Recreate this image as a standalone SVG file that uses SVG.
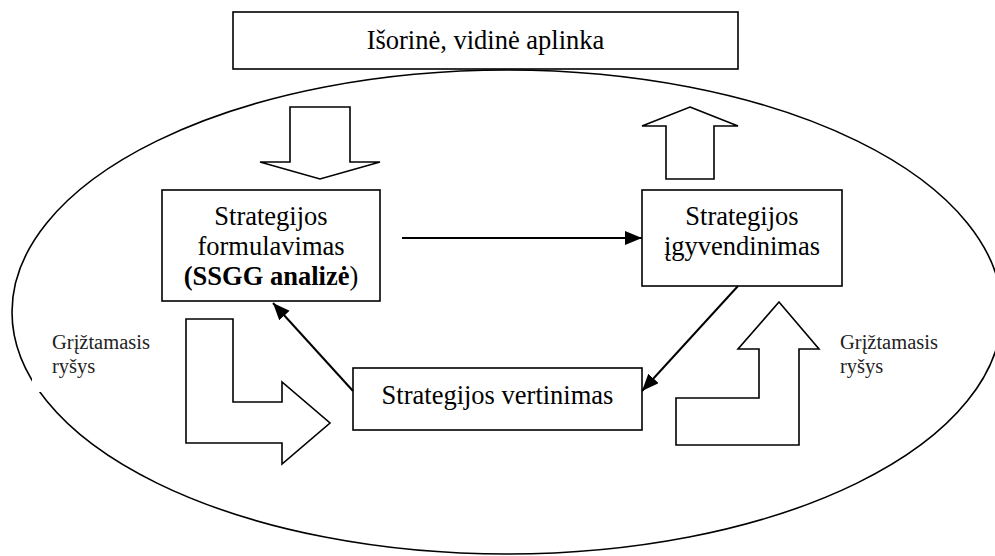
<svg xmlns="http://www.w3.org/2000/svg" width="995" height="556" viewBox="0 0 995 556">
  <style>
    .box { fill: #fff; stroke: #000; stroke-width: 1.6; }
    .blk { fill: #fff; stroke: #000; stroke-width: 1.6; stroke-linejoin: miter; }
    .t { font-family: "Liberation Serif", "Times New Roman", serif; font-size: 26.5px; fill: #000; text-anchor: middle; }
    .lbl { font-family: "Liberation Serif", "Times New Roman", serif; font-size: 20.5px; fill: #222; }
    .con { stroke: #000; stroke-width: 2; fill: none; marker-end: url(#ah); }
  </style>
  <defs>
    <marker id="ah" markerUnits="userSpaceOnUse" markerWidth="18" markerHeight="16" refX="17" refY="7" orient="auto">
      <path d="M0,0 L17,7 L0,14 z" fill="#000"/>
    </marker>
  </defs>
  <rect width="995" height="556" fill="#fff"/>

  <!-- environment boundary -->
  <g id="environment">
    <ellipse cx="507" cy="312" rx="495" ry="242" fill="none" stroke="#000" stroke-width="1.6"/>
  </g>

  <g id="outer-box">
    <rect class="box" x="233" y="12" width="505" height="57"/>
    <text class="t" x="485.5" y="49">Išorinė, vidinė aplinka</text>
  </g>

  <!-- block arrows between the environment and the process -->
  <g id="input-arrow">
    <polygon class="blk" points="290,107 350,107 350,162 380,162 320,179 260,162 290,162"/>
  </g>
  <g id="output-arrow">
    <polygon class="blk" points="690,107 738,126 714,126 714,179 666,179 666,126 642,126"/>
  </g>

  <g id="formulation">
    <rect class="box" x="162" y="190" width="218" height="111"/>
    <text class="t" x="271" y="225">Strategijos</text>
    <text class="t" x="271" y="255">formulavimas</text>
    <text class="t" x="271" y="285"><tspan font-weight="bold">(SSGG analizė</tspan>)</text>
  </g>

  <g id="implementation">
    <rect class="box" x="642" y="190" width="200" height="96"/>
    <text class="t" x="742" y="225">Strategijos</text>
    <text class="t" x="742" y="255">įgyvendinimas</text>
  </g>

  <g id="evaluation">
    <rect class="box" x="353" y="368" width="289" height="62"/>
    <text class="t" x="497.5" y="404">Strategijos vertinimas</text>
  </g>

  <!-- feedback block arrows -->
  <g id="feedback-left">
    <polygon class="blk" points="186,319 233,319 233,402 282,402 282,382 330,423 282,464 282,443 186,443"/>
  </g>
  <g id="feedback-right">
    <polygon class="blk" points="779,302 819,349 799,349 799,445 676,445 676,398 759,398 759,349 738,349"/>
  </g>

  <g id="label-left">
    <rect x="32" y="330" width="130" height="62" fill="#fff"/>
    <text class="lbl" x="52" y="349">Grįžtamasis</text>
    <text class="lbl" x="52" y="373">ryšys</text>
  </g>
  <g id="label-right">
    <text class="lbl" x="840" y="349">Grįžtamasis</text>
    <text class="lbl" x="840" y="373">ryšys</text>
  </g>

  <g id="connectors">
    <line class="con" x1="402" y1="238" x2="642" y2="238"/>
    <line class="con" x1="738" y1="286" x2="642" y2="391"/>
    <line class="con" x1="353" y1="391" x2="273" y2="303"/>
  </g>
</svg>
